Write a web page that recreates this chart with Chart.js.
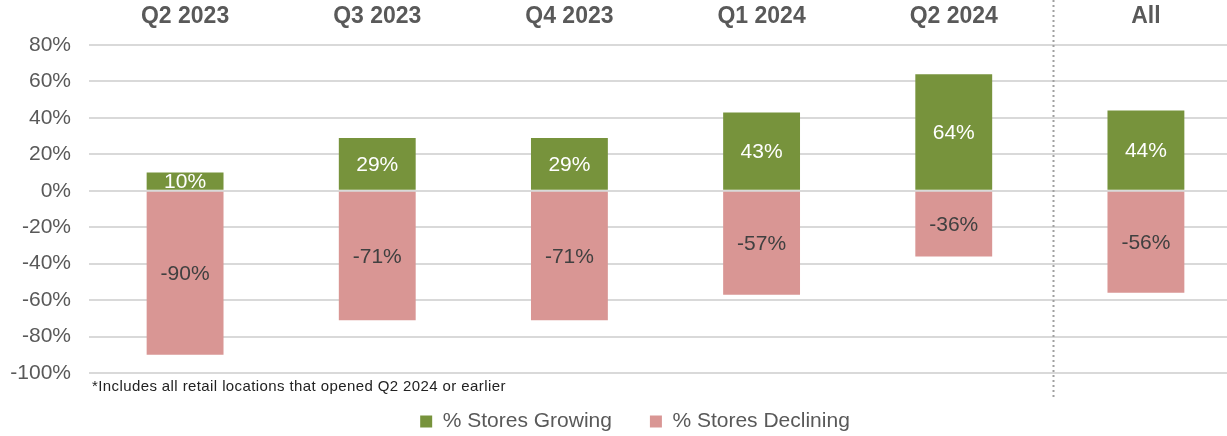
<!DOCTYPE html>
<html><head><meta charset="utf-8">
<script src="https://cdn.jsdelivr.net/npm/chart.js@4/dist/chart.umd.min.js"></script>
<style>
html,body{margin:0;padding:0;background:#fff;overflow:hidden;}
#wrap{position:relative;width:1270px;height:436px;}
</style></head><body>
<div id="wrap"><canvas id="c"></canvas></div>
<script>
const categories = ['Q2 2023','Q3 2023','Q4 2023','Q1 2024','Q2 2024','All'];
const growing = [10, 29, 29, 43, 64, 44];
const declining = [-90, -71, -71, -57, -36, -56];
const yTickValues = [80, 60, 40, 20, 0, -20, -40, -60, -80, -100];
const seriesNames = ['% Stores Growing', '% Stores Declining'];
const footnote = '*Includes all retail locations that opened Q2 2024 or earlier';

const FONT = "'Liberation Sans', Arial, sans-serif";

const legendFit = {
  id: 'legendFit',
  beforeInit(chart) {
    const fit = chart.legend.fit;
    chart.legend.fit = function () { fit.call(this); this.height = 63; };
  }
};

const barLabels = {
  id: 'barLabels',
  afterDatasetsDraw(chart) {
    const ctx = chart.ctx;
    ctx.save();
    ctx.font = '21px ' + FONT;
    ctx.textAlign = 'center';
    ctx.textBaseline = 'middle';
    chart.data.datasets.forEach((ds, di) => {
      const meta = chart.getDatasetMeta(di);
      ctx.fillStyle = di === 0 ? '#ffffff' : '#404040';
      meta.data.forEach((el, i) => {
        const y = (el.y + el.base) / 2;
        ctx.fillText(ds.data[i] + '%', el.x, y + 1);
      });
    });
    ctx.restore();
  }
};

const extras = {
  id: 'extras',
  afterDraw(chart) {
    const ctx = chart.ctx;
    const xs = chart.scales.x;
    const ca = chart.chartArea;
    const sx = Math.round(xs.getPixelForValue(categories.length - 1.5)) + 3.5;
    ctx.save();
    ctx.strokeStyle = '#a0a0a0';
    ctx.lineWidth = 2;
    ctx.setLineDash([2, 3]);
    ctx.beginPath();
    ctx.moveTo(sx, 0);
    ctx.lineTo(sx, ca.bottom + 25);
    ctx.stroke();
    ctx.restore();
    ctx.save();
    ctx.font = '15px ' + FONT;
    if ('letterSpacing' in ctx) ctx.letterSpacing = '0.4px';
    ctx.fillStyle = '#222222';
    ctx.textAlign = 'left';
    ctx.textBaseline = 'middle';
    ctx.fillText(footnote, ca.left + 3, ca.bottom + 14);
    ctx.restore();
  }
};

new Chart(document.getElementById('c'), {
  type: 'bar',
  data: {
    labels: categories,
    datasets: [
      { label: seriesNames[0], data: growing, backgroundColor: '#77933C', borderWidth: 0 },
      { label: seriesNames[1], data: declining, backgroundColor: '#D99694', borderWidth: 0 }
    ]
  },
  options: {
    responsive: true,
    maintainAspectRatio: false,
    animation: false,
    layout: { padding: { top: 2, left: 0, right: 0, bottom: 0 } },
    datasets: { bar: { categoryPercentage: 1, barPercentage: 0.4 } },
    scales: {
      x: {
        stacked: true,
        position: 'top',
        afterFit(scale) { scale.height = 43; },
        grid: { display: false, drawTicks: false },
        border: { display: false },
        ticks: { color: '#595959', font: { family: FONT, size: 23, weight: 'bold' }, padding: 15 }
      },
      y: {
        stacked: true,
        min: Math.min(...yTickValues),
        max: Math.max(...yTickValues),
        afterFit(scale) { scale.width = 89; scale.paddingTop = 0; scale.paddingBottom = 0; },
        afterBuildTicks(scale) { scale.ticks = yTickValues.map(v => ({ value: v })); },
        grid: { color: '#d9d9d9', lineWidth: 2, drawTicks: false },
        border: { display: false },
        ticks: { color: '#595959', font: { family: FONT, size: 21 }, padding: 18, callback: v => v + '%' }
      },
      yRightSpace: {
        position: 'right',
        afterFit(scale) { scale.width = 28; scale.paddingTop = 0; scale.paddingBottom = 0; },
        grid: { display: false, drawTicks: false },
        border: { display: false },
        ticks: { display: false }
      }
    },
    plugins: {
      legend: {
        position: 'bottom',
        labels: { color: '#595959', font: { family: FONT, size: 21 }, boxWidth: 12, boxHeight: 12, padding: 38 }
      },
      tooltip: { enabled: false }
    }
  },
  plugins: [legendFit, barLabels, extras]
});
</script>
</body></html>
